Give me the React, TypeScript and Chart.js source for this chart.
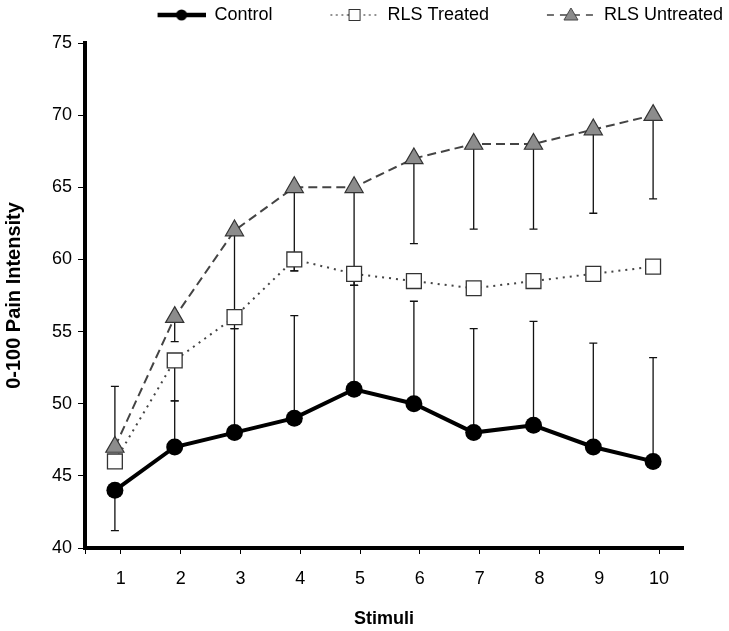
import React, { useEffect, useRef } from 'react';
import { Chart, registerables } from 'chart.js';

Chart.register(...registerables);

// ---- data ----
const stimuli = [1, 2, 3, 4, 5, 6, 7, 8, 9, 10];
const seriesNames = ['Control', 'RLS Treated', 'RLS Untreated'];
const controlValues = [44, 47, 48, 49, 51, 50, 48, 48.5, 47, 46];
const treatedValues = [46, 53, 56, 60, 59, 58.5, 58, 58.5, 59, 59.5];
const untreatedValues = [47, 56, 62, 65, 65, 67, 68, 68, 69, 70];
// error bar end values (null = no bar in that direction)
const controlErrHigh = [null, 50.2, 55.2, 56.1, 58.2, 57.1, 55.2, 55.7, 54.2, 53.2];
const controlErrLow = [41.2, null, null, null, null, null, null, null, null, null];
const treatedErrLow = [null, 50.2, null, 59.2, 58.2, null, null, null, null, null];
const untreatedErrLow = [null, 54.3, 55.2, 59.2, 58.2, 61.1, 62.1, 62.1, 63.2, 64.2];
const untreatedErrHigh = [51.2, null, null, null, null, null, null, null, null, null];
const yMin = 40;
const yMax = 75;
const yStep = 5;

const FONT = "'Liberation Sans', Arial, Helvetica, sans-serif";

function makeLegendImage(kind: string): HTMLCanvasElement {
  const c = document.createElement('canvas');
  c.width = 100;
  c.height = 20;
  const ctx = c.getContext('2d')!;
  const cy = 10;
  const x0 = 52;
  const x1 = 100;
  const cx = (x0 + x1) / 2;
  ctx.strokeStyle = kind === 'control' ? '#000' : '#444';
  if (kind === 'control') {
    ctx.lineWidth = 4.5;
    ctx.beginPath();
    ctx.moveTo(x0, cy);
    ctx.lineTo(x1, cy);
    ctx.stroke();
    ctx.fillStyle = '#000';
    ctx.beginPath();
    ctx.arc(cx, cy, 5.5, 0, Math.PI * 2);
    ctx.fill();
  } else if (kind === 'treated') {
    ctx.lineWidth = 1.5;
    ctx.setLineDash([1.5, 4]);
    ctx.beginPath();
    ctx.moveTo(x0, cy);
    ctx.lineTo(x1, cy);
    ctx.stroke();
    ctx.setLineDash([]);
    ctx.fillStyle = '#fff';
    ctx.fillRect(cx - 6, cy - 6, 12, 12);
    ctx.lineWidth = 1;
    ctx.strokeStyle = '#333';
    ctx.strokeRect(cx - 5.5, cy - 5.5, 11, 11);
  } else {
    ctx.lineWidth = 1.5;
    ctx.setLineDash([7, 6]);
    ctx.beginPath();
    ctx.moveTo(x0, cy);
    ctx.lineTo(x1, cy);
    ctx.stroke();
    ctx.setLineDash([]);
    ctx.fillStyle = '#8c8c8c';
    ctx.strokeStyle = '#444';
    ctx.lineWidth = 1;
    ctx.beginPath();
    ctx.moveTo(cx, cy - 7);
    ctx.lineTo(cx + 7, cy + 5);
    ctx.lineTo(cx - 7, cy + 5);
    ctx.closePath();
    ctx.fill();
    ctx.stroke();
  }
  return c;
}

const errorBarPlugin = {
  id: 'errorBars',
  beforeDatasetsDraw(chart: any) {
    const { ctx } = chart;
    const yScale = chart.scales.y;
    const xScale = chart.scales.x;
    ctx.save();
    ctx.strokeStyle = '#111';
    ctx.lineWidth = 1.3;
    chart.data.datasets.forEach((ds: any) => {
      const lows = ds.errLow || [];
      const highs = ds.errHigh || [];
      ds.data.forEach((pt: any, i: number) => {
        const px = xScale.getPixelForValue(pt.x);
        const py = yScale.getPixelForValue(pt.y);
        [lows[i], highs[i]].forEach((end: any) => {
          if (end === null || end === undefined) return;
          const pe = yScale.getPixelForValue(end);
          ctx.beginPath();
          ctx.moveTo(px, py);
          ctx.lineTo(px, pe);
          ctx.moveTo(px - 4, pe);
          ctx.lineTo(px + 4, pe);
          ctx.stroke();
        });
      });
    });
    ctx.restore();
  },
};

export default function App() {
  const canvasRef = useRef<HTMLCanvasElement | null>(null);

  useEffect(() => {
    document.body.style.margin = '0';
    const canvas = canvasRef.current!;
    const legendImages = [
      makeLegendImage('control'),
      makeLegendImage('treated'),
      makeLegendImage('untreated'),
    ];
    const toPoints = (arr: number[]) => arr.map((v, i) => ({ x: stimuli[i], y: v }));

    const chart = new Chart(canvas, {
      type: 'line',
      data: {
        datasets: [
          {
            label: seriesNames[0],
            data: toPoints(controlValues),
            borderColor: '#000',
            borderWidth: 4,
            pointStyle: 'circle',
            pointRadius: 8.5,
            pointBackgroundColor: '#000',
            pointBorderColor: '#000',
            pointBorderWidth: 0,
            errHigh: controlErrHigh,
            errLow: controlErrLow,
          } as any,
          {
            label: seriesNames[1],
            data: toPoints(treatedValues),
            borderColor: '#444',
            borderWidth: 2,
            borderDash: [2, 5],
            pointStyle: 'rect',
            pointRadius: 10.5,
            pointBackgroundColor: '#fff',
            pointBorderColor: '#333',
            pointBorderWidth: 1.3,
            errLow: treatedErrLow,
          } as any,
          {
            label: seriesNames[2],
            data: toPoints(untreatedValues),
            borderColor: '#444',
            borderWidth: 2,
            borderDash: [9, 5],
            pointStyle: 'triangle',
            pointRadius: 10.5,
            pointBackgroundColor: '#8c8c8c',
            pointBorderColor: '#333',
            pointBorderWidth: 1.2,
            errLow: untreatedErrLow,
            errHigh: untreatedErrHigh,
          } as any,
        ],
      },
      options: {
        responsive: false,
        animation: false,
        layout: { padding: 0 },
        plugins: {
          tooltip: { enabled: false },
          legend: {
            display: true,
            position: 'top',
            align: 'end',
            labels: {
              usePointStyle: true,
              pointStyleWidth: 100,
              padding: 6,
              color: '#000',
              font: { family: FONT, size: 18 },
              generateLabels: (ch: any) =>
                ch.data.datasets.map((ds: any, i: number) => ({
                  text: ds.label,
                  pointStyle: legendImages[i],
                  fillStyle: 'transparent',
                  strokeStyle: 'transparent',
                  lineWidth: 0,
                  hidden: false,
                  datasetIndex: i,
                  fontColor: '#000',
                })),
            },
          },
        },
        scales: {
          x: {
            type: 'linear',
            position: 'bottom',
            min: 0.5,
            max: 10.5,
            afterBuildTicks: (scale: any) => {
              scale.ticks = [0.5, ...stimuli.map((s) => s + 0.1)].map((v) => ({ value: v }));
            },
            afterFit: (scale: any) => {
              scale.height = 83;
            },
            grid: {
              display: true,
              drawOnChartArea: false,
              drawTicks: true,
              tickLength: 6,
              tickColor: '#000',
              tickWidth: 1,
            },
            border: { display: true, color: '#000', width: 4 },
            ticks: {
              autoSkip: false,
              maxRotation: 0,
              padding: 14,
              color: '#000',
              font: { family: FONT, size: 18 },
              callback: (v: any) => (v === 0.5 ? '' : String(Math.round(Number(v) - 0.1))),
            },
            title: {
              display: true,
              text: 'Stimuli',
              color: '#000',
              font: { family: FONT, size: 18, weight: 'bold' },
              padding: { top: 0, bottom: 1 },
            },
          },
          xTop: {
            type: 'linear',
            position: 'top',
            display: true,
            grid: { display: false },
            border: { display: false },
            ticks: { display: false },
            afterFit: (scale: any) => {
              scale.height = 9;
            },
          },
          y: {
            type: 'linear',
            position: 'left',
            min: yMin,
            max: yMax,
            afterFit: (scale: any) => {
              scale.width = 85;
            },
            grid: {
              display: true,
              drawOnChartArea: false,
              drawTicks: true,
              tickLength: 7,
              tickColor: '#000',
              tickWidth: 1,
            },
            border: { display: true, color: '#000', width: 4 },
            ticks: {
              stepSize: yStep,
              padding: 6,
              color: '#000',
              font: { family: FONT, size: 18 },
            },
            title: {
              display: true,
              text: '0-100 Pain Intensity',
              color: '#000',
              font: { family: FONT, size: 20, weight: 'bold' },
              padding: { top: 2, bottom: 0 },
            },
          },
          yRight: {
            type: 'linear',
            position: 'right',
            display: true,
            grid: { display: false },
            border: { display: false },
            ticks: { display: false },
            afterFit: (scale: any) => {
              scale.width = 46;
            },
          },
        },
      } as any,
      plugins: [errorBarPlugin],
    });

    return () => {
      chart.destroy();
    };
  }, []);

  return (
    <div style={{ position: 'fixed', left: 0, top: 0, width: 729, height: 631, background: '#fff' }}>
      <canvas ref={canvasRef} width={729} height={631} style={{ display: 'block' }} />
    </div>
  );
}
